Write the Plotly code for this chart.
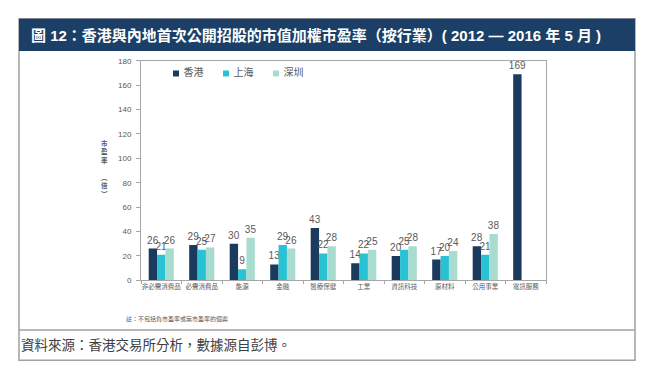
import plotly.graph_objects as go

categories = ["非必需消費品", "必需消費品", "能源", "金融", "醫療保健", "工業",
              "資訊科技", "原材料", "公用事業", "電訊服務"]
hk = [26, 29, 30, 13, 43, 14, 20, 17, 28, 169]
sh = [21, 25, 9, 29, 22, 22, 25, 20, 21, None]
sz = [26, 27, 35, 26, 28, 25, 28, 24, 38, None]
series_names = ["香港", "上海", "深圳"]
colors = ["#1a3a5e", "#29c2d4", "#a8dcce"]

W, H = 650, 371
FONT = "Liberation Sans, Arial, Noto Sans CJK TC, sans-serif"
GRAY = "#595959"

def px(x):
    return x / W

def py(y):
    return 1 - y / H

fig = go.Figure()
for name, vals, col in zip(series_names, [hk, sh, sz], colors):
    fig.add_trace(go.Bar(
        x=categories, y=vals, name=name, marker=dict(color=col, line=dict(width=0)),
        text=[("" if v is None else str(v)) for v in vals],
        textposition="outside", constraintext="none", cliponaxis=False,
        textfont=dict(size=10, color=GRAY, family=FONT), showlegend=False,
    ))

# Legend keys drawn on an overlay axis measured in pixels (layout only)
LEG_X0, LEG_STEP, LEG_Y = 168, 50, 63
fig.add_trace(go.Scatter(
    x=[LEG_X0 + i * LEG_STEP for i in range(len(series_names))],
    y=[LEG_Y] * len(series_names),
    xaxis="x2", yaxis="y2", mode="markers+text",
    text=[" " + n for n in series_names], textposition="middle right",
    textfont=dict(size=10, color=GRAY, family=FONT),
    marker=dict(symbol="square", size=6, color=colors),
    showlegend=False, hoverinfo="skip", cliponaxis=False,
))

fig.update_layout(
    width=W, height=H,
    margin=dict(l=0, r=0, t=0, b=0),
    paper_bgcolor="white", plot_bgcolor="rgba(0,0,0,0)",
    font=dict(family=FONT, color=GRAY),
    barmode="group", bargap=0.38, bargroupgap=0,
    showlegend=False,
    xaxis=dict(domain=[px(133), px(538)], showline=True, linecolor="#a6a6a6", linewidth=1,
               mirror=True, ticks="outside", tickson="boundaries", ticklen=3,
               tickcolor="#a6a6a6", tickfont=dict(size=6.5, color=GRAY), tickangle=0,
               showgrid=False),
    yaxis=dict(domain=[py(275), py(50)], range=[0, 180], dtick=20, showline=True,
               linecolor="#a6a6a6", linewidth=1, mirror=True, ticks="outside", ticklen=4,
               tickcolor="#a6a6a6", tickfont=dict(size=8, color=GRAY), showgrid=False,
               zeroline=False, ticklabelstandoff=3),
    xaxis2=dict(domain=[0, 1], range=[0, W], visible=False, anchor="y2", fixedrange=True),
    yaxis2=dict(domain=[0, 1], range=[H, 0], visible=False, anchor="x2", fixedrange=True),
)

shapes = [
    dict(type="rect", xref="paper", yref="paper", x0=px(11), x1=px(627), y0=py(357), y1=py(7),
         line=dict(color="#a0a0a0", width=1.5), fillcolor="rgba(0,0,0,0)", layer="below"),
    dict(type="rect", xref="paper", yref="paper", x0=px(11), x1=px(627), y0=py(40), y1=py(7),
         line=dict(width=0), fillcolor="#1b3f66", layer="below"),
    dict(type="line", xref="paper", yref="paper", x0=px(11), x1=px(627), y0=py(326), y1=py(326),
         line=dict(color="#a0a0a0", width=1.5)),
]
fig.update_layout(shapes=shapes)

annotations = [
    dict(text="<b>圖 12：香港與內地首次公開招股的市值加權市盈率（按行業）( 2012 — 2016 年 5 月 )</b>",
         x=px(21), y=py(24), xref="paper", yref="paper", xanchor="left", yanchor="middle",
         showarrow=False, font=dict(size=15, color="white", family=FONT)),
    dict(text="資料來源：香港交易所分析，數據源自彭博。",
         x=px(11), y=py(341), xref="paper", yref="paper", xanchor="left", yanchor="middle",
         showarrow=False, font=dict(size=13.5, color="#404040", family=FONT)),
    dict(text="註：不包括負市盈率或無市盈率的個案",
         x=px(116), y=py(315), xref="paper", yref="paper", xanchor="left", yanchor="middle",
         showarrow=False, font=dict(size=6, color=GRAY, family=FONT)),
    dict(text="<b>市<br>盈<br>率<br> <br>︵<br>倍<br>︶</b>",
         x=px(96), y=py(160), xref="paper", yref="paper", xanchor="center", yanchor="middle",
         showarrow=False, font=dict(size=6.5, color=GRAY, family=FONT)),
]
fig.update_layout(annotations=annotations)

fig.write_html("out.html")
